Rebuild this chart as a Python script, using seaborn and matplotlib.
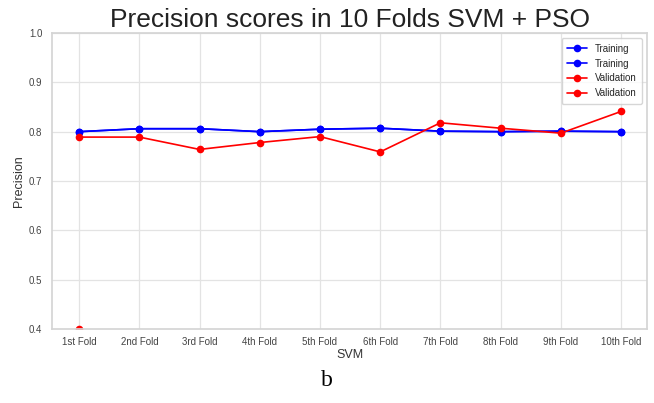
import numpy as np
import pandas as pd
import seaborn as sns
import matplotlib.pyplot as plt

folds = ['1st Fold', '2nd Fold', '3rd Fold', '4th Fold', '5th Fold',
         '6th Fold', '7th Fold', '8th Fold', '9th Fold', '10th Fold']
training = [0.800, 0.806, 0.806, 0.800, 0.805, 0.807, 0.801, 0.800, 0.801, 0.800]
validation = [0.789, 0.789, 0.764, 0.778, 0.790, 0.759, 0.818, 0.807, 0.797, 0.841]
validation_extra = [0.400]

sns.set_theme(style='whitegrid', rc={'grid.color': '#e3e3e3', 'grid.linewidth': 0.9})
plt.rcParams['font.family'] = ['Liberation Sans', 'DejaVu Sans']

fig = plt.figure(figsize=(6.54, 4.03), dpi=100)
ax = fig.add_axes([52 / 654, 1 - 329 / 403, 595 / 654, 296 / 403])

df = pd.DataFrame({'fold': folds, 'train': training, 'val': validation})
style = dict(marker='o', markersize=5.5, markeredgewidth=0, linewidth=1.2, ax=ax)
sns.lineplot(data=df, x='fold', y='train', color='blue', label='Training', sort=False, **style)
sns.lineplot(data=df, x='fold', y='train', color='blue', label='Training', sort=False, **style)
sns.lineplot(data=df, x='fold', y='val', color='red', label='Validation', sort=False, **style)
sns.lineplot(x=folds[:1], y=validation_extra, color='red', label='Validation', **style)

ax.set_ylim(0.4, 1.0)
ax.set_xlim(-0.45, 9.43)
ax.set_yticks(np.arange(0.4, 1.01, 0.1))
ax.tick_params(axis='x', labelsize=7, colors='#444444', pad=0)
ax.tick_params(axis='y', labelsize=7, colors='#444444', pad=1)
for s in ax.spines.values():
    s.set_color('#d5d5d5')
ax.set_title('Precision scores in 10 Folds SVM + PSO', fontsize=19, color='#222222', pad=4)
ax.set_xlabel('SVM', fontsize=9, color='#333333', labelpad=1)
ax.set_ylabel('Precision', fontsize=9, color='#333333', labelpad=3)
ax.legend(loc='upper right', fontsize=7, frameon=True, borderpad=0.6)

fig.text(327 / 654, 1 - 380 / 403, 'b', family='Liberation Serif', fontsize=17,
         ha='center', va='center', color='black')

fig.savefig('out.png', dpi=100)
